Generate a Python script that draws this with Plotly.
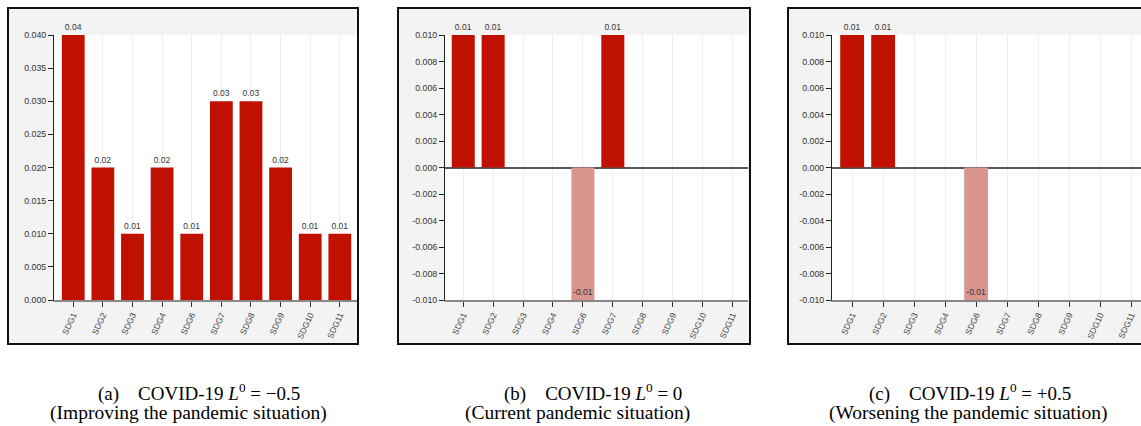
import plotly.graph_objects as go

W, H = 1141, 426

categories = ["SDG1", "SDG2", "SDG3", "SDG4", "SDG6", "SDG7", "SDG8", "SDG9", "SDG10", "SDG11"]
values_a = [0.04, 0.02, 0.01, 0.02, 0.01, 0.03, 0.03, 0.02, 0.01, 0.01]
values_b = [0.01, 0.01, 0, 0, -0.01, 0.01, 0, 0, 0, 0]
values_c = [0.01, 0.01, 0, 0, -0.01, 0, 0, 0, 0, 0]

ytick_a = [0.0, 0.005, 0.010, 0.015, 0.020, 0.025, 0.030, 0.035, 0.040]
ytick_bc = [-0.010, -0.008, -0.006, -0.004, -0.002, 0.0, 0.002, 0.004, 0.006, 0.008, 0.010]

caption1 = ["(a)\u00a0\u00a0\u00a0\u00a0COVID-19 <i>L</i><sup>0</sup> = \u22120.5",
            "(b)\u00a0\u00a0\u00a0\u00a0COVID-19 <i>L</i><sup>0</sup> = 0",
            "(c)\u00a0\u00a0\u00a0\u00a0COVID-19 <i>L</i><sup>0</sup> = +0.5"]
caption2 = ["(Improving the pandemic situation)",
            "(Current pandemic situation)",
            "(Worsening the pandemic situation)"]

POS = "#c01000"
NEG = "#d9948e"


def px(x):
    return x / W


def py(y):
    return (H - y) / H


def fmt(v):
    return "" if v == 0 else f"{v:.2f}"


panels = [
    dict(vals=values_a, dom=(54, 357), box=(8, 8, 358, 344), xr=[-0.65, 9.58], yr=[0, 0.04], ticks=ytick_a),
    dict(vals=values_b, dom=(445, 748), box=(398, 8, 750, 344), xr=[-0.61, 9.52], yr=[-0.01, 0.01], ticks=ytick_bc),
    dict(vals=values_c, dom=(832, 1141), box=(788, 8, 1170, 344), xr=[-0.65, 9.32], yr=[-0.01, 0.01], ticks=ytick_bc),
]

fig = go.Figure()
shapes = []
layout_axes = {}
for i, p in enumerate(panels):
    n = "" if i == 0 else str(i + 1)
    vals = p["vals"]
    fig.add_trace(go.Bar(
        x=list(range(len(categories))), y=vals,
        xaxis="x" + n, yaxis="y" + n,
        width=0.77,
        marker=dict(color=[POS if v >= 0 else NEG for v in vals], line=dict(width=0)),
        text=[fmt(v) for v in vals],
        textposition=["inside" if v < 0 else "outside" for v in vals],
        insidetextanchor="end",
        textangle=0,
        textfont=dict(family="Liberation Sans, Arial", size=8.5, color="#333"),
        constraintext="none",
        cliponaxis=False,
        showlegend=False,
        hoverinfo="skip",
    ))
    x0, y0, x1, y1 = p["box"]
    shapes.append(dict(type="rect", xref="paper", yref="paper", layer="below",
                       x0=px(x0), x1=px(x1), y0=py(y1), y1=py(y0),
                       fillcolor="#f3f3f3", line=dict(color="#111", width=2)))
    shapes.append(dict(type="rect", xref="paper", yref="paper", layer="below",
                       x0=px(p["dom"][0]), x1=px(p["dom"][1]), y0=py(300), y1=py(35),
                       fillcolor="white", line=dict(width=0)))
    layout_axes["xaxis" + n] = dict(
        domain=[px(p["dom"][0]), px(p["dom"][1])], anchor="y" + n,
        range=p["xr"], tickmode="array", tickvals=list(range(len(categories))),
        ticktext=categories, tickangle=-65, ticks="outside", ticklen=5, tickcolor="#333",
        showgrid=True, gridcolor="#eeeeee", gridwidth=1,
        showline=True, linecolor="#888", linewidth=1.5, zeroline=False,
        tickfont=dict(family="Liberation Sans, Arial", size=8.5, color="#444"),
        fixedrange=True,
    )
    layout_axes["yaxis" + n] = dict(
        domain=[py(300), py(35)], anchor="x" + n, range=p["yr"],
        tickmode="array", tickvals=p["ticks"],
        ticktext=[f"{t:.3f}" for t in p["ticks"]],
        ticks="outside", ticklen=5, tickcolor="#222",
        showline=True, linecolor="#222", linewidth=1,
        showgrid=False, zeroline=(i > 0), zerolinecolor="#555", zerolinewidth=1.5,
        tickfont=dict(family="Liberation Sans, Arial", size=8.8, color="#333"),
        fixedrange=True,
    )

annotations = []
line1_left = [96, 502, 867]
line2_center = [188.5, 577, 967.5]
for i in range(3):
    annotations.append(dict(xref="paper", yref="paper", x=px(line1_left[i]), y=py(392),
                            xanchor="left", yanchor="middle", showarrow=False,
                            text=caption1[i],
                            font=dict(family="Liberation Serif, Times New Roman", size=19, color="#000")))
    annotations.append(dict(xref="paper", yref="paper", x=px(line2_center[i]), y=py(413),
                            xanchor="center", yanchor="middle", showarrow=False,
                            text=caption2[i],
                            font=dict(family="Liberation Serif, Times New Roman", size=19.5, color="#000")))

fig.update_layout(
    width=W, height=H, margin=dict(l=0, r=0, t=0, b=0, pad=0, autoexpand=False),
    paper_bgcolor="white", plot_bgcolor="rgba(0,0,0,0)",
    shapes=shapes, annotations=annotations, bargap=0.23,
    **layout_axes,
)

fig.write_html("out.html", config={"displayModeBar": False, "responsive": False},
               post_script="document.body.style.margin='0';document.body.style.overflow='hidden';")
